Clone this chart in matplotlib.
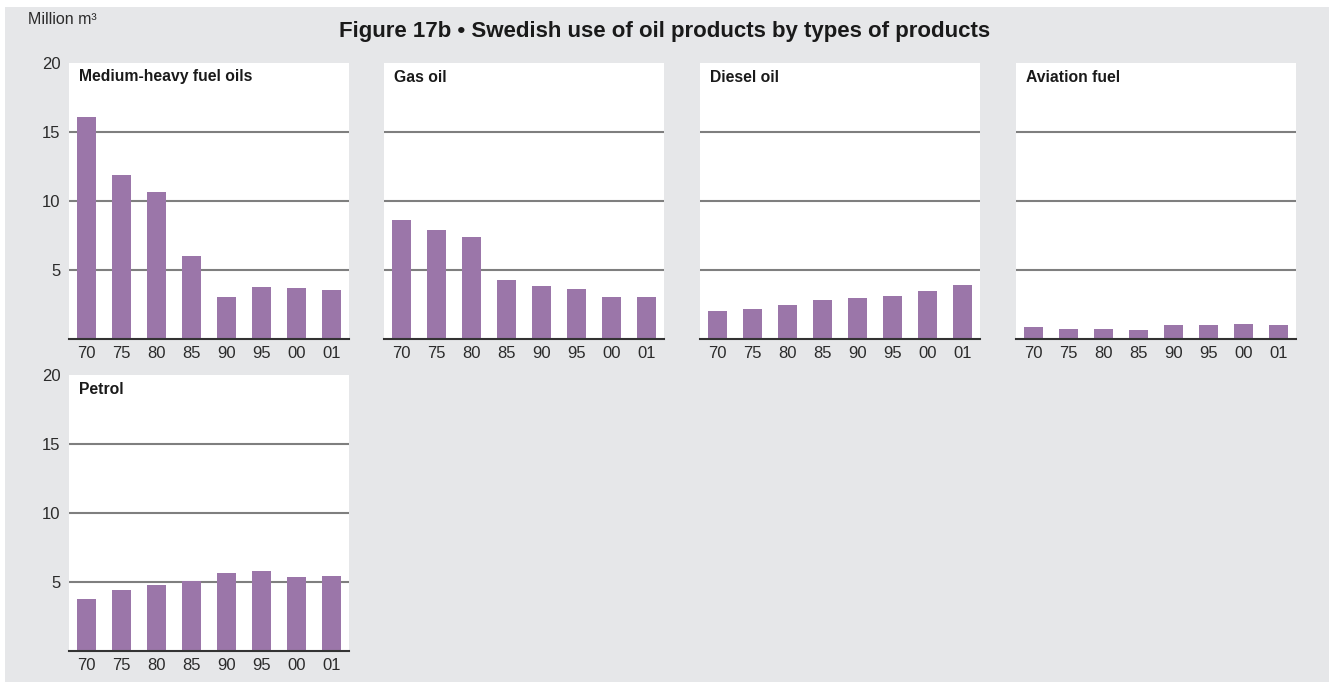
"""Swedish use of oil products by types of products, small multiples."""
import matplotlib.pyplot as plt
from matplotlib.patches import Rectangle

years = ['70', '75', '80', '85', '90', '95', '00', '01']

medium_heavy = [16.1, 11.9, 10.65, 6.0, 3.05, 3.75, 3.7, 3.55]
gas_oil = [8.6, 7.9, 7.4, 4.3, 3.85, 3.65, 3.05, 3.05]
diesel_oil = [2.0, 2.15, 2.5, 2.85, 3.0, 3.15, 3.5, 3.9]
aviation_fuel = [0.88, 0.75, 0.75, 0.66, 1.02, 1.02, 1.1, 1.02]
petrol = [3.75, 4.4, 4.78, 5.05, 5.65, 5.8, 5.36, 5.43]

panels = [
    ('Medium-heavy fuel oils', medium_heavy),
    ('Gas oil', gas_oil),
    ('Diesel oil', diesel_oil),
    ('Aviation fuel', aviation_fuel),
    ('Petrol', petrol),
]

W, H = 1329, 682
BG = '#e6e7e9'
BAR = '#9b76a9'
TXT = '#2b2b2b'

fig = plt.figure(figsize=(W / 100, H / 100), dpi=100)
fig.patch.set_facecolor('white')
# grey background panel (thin white strip on top and left)
fig.patches.append(Rectangle((5 / W, 0), 1 - 5 / W, 1 - 7 / H,
                             transform=fig.transFigure, facecolor=BG,
                             edgecolor='none', zorder=-10))

lefts = [69, 384, 700, 1016]
tops = [63, 375]
ax_w, ax_h = 280, 276

for i, (name, vals) in enumerate(panels):
    row, col = divmod(i, 4)
    left = lefts[col] / W
    bottom = 1 - (tops[row] + ax_h) / H
    ax = fig.add_axes([left, bottom, ax_w / W, ax_h / H])
    ax.set_facecolor('white')
    ax.bar(range(len(years)), vals, width=0.57, color=BAR, zorder=3)
    ax.set_xlim(-0.5, len(years) - 0.5)
    ax.set_ylim(0, 20)
    for y in [5, 10, 15]:
        ax.axhline(y, color='#7f7f7f', lw=1.5, zorder=2)
    for s in ['top', 'left', 'right']:
        ax.spines[s].set_visible(False)
    ax.spines['bottom'].set_color('#333333')
    ax.spines['bottom'].set_linewidth(1.5)
    ax.spines['bottom'].set_zorder(4)
    ax.set_xticks(range(len(years)))
    ax.set_xticklabels(years, fontsize=12, color=TXT, family='Liberation Sans')
    ax.tick_params(axis='x', length=0, pad=5)
    if col == 0:
        ax.set_yticks([5, 10, 15, 20])
        ax.set_yticklabels(['5', '10', '15', '20'], fontsize=12, color=TXT,
                           family='Liberation Sans')
        ax.tick_params(axis='y', length=0, pad=6)
    else:
        ax.set_yticks([])
    ax.text(10 / ax_w, 1 - 14 / ax_h, name, transform=ax.transAxes,
            fontsize=11.3, fontweight='bold', color='#1a1a1a',
            family='Liberation Sans', va='center', ha='left')

fig.text(28 / W, 1 - 19 / H, 'Million m\u00b3', fontsize=11.5, color=TXT,
         family='Liberation Sans', va='center', ha='left')
fig.text(665 / W, 1 - 31 / H,
         'Figure 17b \u2022 Swedish use of oil products by types of products',
         fontsize=16, fontweight='bold', color='#1a1a1a',
         family='Liberation Sans', va='center', ha='center')

fig.savefig('out.png', dpi=100, facecolor=fig.get_facecolor())
